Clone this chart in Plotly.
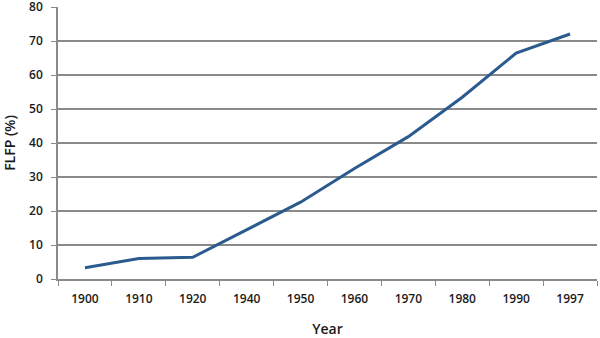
import plotly.graph_objects as go

years = ["1900", "1910", "1920", "1940", "1950", "1960", "1970", "1980", "1990", "1997"]
flfp = [3.3, 6.0, 6.4, 14.5, 22.6, 32.5, 41.9, 53.5, 66.5, 72.1]
y_ticks = [0, 10, 20, 30, 40, 50, 60, 70, 80]

fig = go.Figure()
fig.add_trace(go.Scatter(x=years, y=flfp, mode="lines", cliponaxis=False,
                         line=dict(color="#2B5B8E", width=3), showlegend=False))

font = dict(family="Open Sans, DejaVu Sans, sans-serif", size=12, color="#1a1a1a", weight=600)
fig.update_layout(
    width=600, height=338,
    margin=dict(l=58, r=3, t=7, b=59),
    plot_bgcolor="white", paper_bgcolor="white",
    font=font,
    xaxis=dict(type="category", range=[-0.5, 9.5], tickson="boundaries", ticks="outside", ticklen=5,
               tickcolor="#8a8a8a", showline=True, linecolor="#8a8a8a", linewidth=1.5,
               showgrid=False, automargin=False, ticklabelstandoff=8,
               ticklabeloverflow="allow",
               title=dict(text="Year", standoff=18),
               tickfont=dict(size=12)),
    yaxis=dict(range=[0, 80.05], tickvals=y_ticks, ticks="outside", ticklen=5,
               tickcolor="#8a8a8a", showline=True, linecolor="#8a8a8a", linewidth=1.5,
               gridcolor="#8a8a8a", gridwidth=1.5, zeroline=False, automargin=False,
               ticklabelstandoff=6, ticklabeloverflow="allow",
               title=dict(text="FLFP (%)", standoff=12), tickfont=dict(size=12)),
)
fig.write_html("out.html", config={"displayModeBar": False},
               post_script="document.body.style.margin='0';")
